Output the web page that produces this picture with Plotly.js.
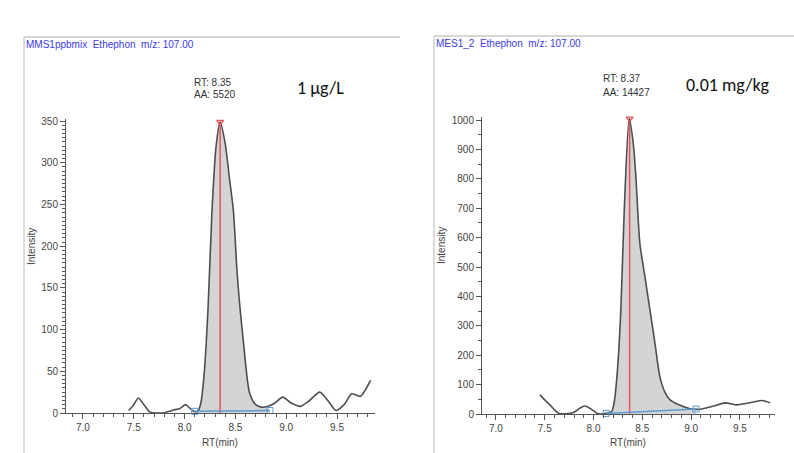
<!DOCTYPE html>
<html>
<head>
<meta charset="utf-8">
<script src="https://cdn.plot.ly/plotly-3.0.1.min.js"></script>
<style>html,body{margin:0;padding:0;background:#fff;}#chart{width:794px;height:453px;}</style>
</head>
<body>
<div id="chart"></div>
<script>
// ---- Data ----
const leftRT  = [7.45, 7.50, 7.545, 7.60, 7.66, 7.72, 7.79, 7.85, 7.90, 7.95, 8.01, 8.05, 8.09, 8.13, 8.16, 8.19, 8.23, 8.27, 8.31, 8.35, 8.40, 8.44, 8.48, 8.52, 8.58, 8.64, 8.70, 8.76, 8.82, 8.89, 8.965, 9.05, 9.14, 9.23, 9.33, 9.41, 9.49, 9.57, 9.645, 9.73, 9.83];
const leftInt = [3, 10, 18, 10, 1, 0, 0, 2, 4, 5, 10, 6, 2, 2, 12, 43, 123, 243, 320, 349, 323, 283, 243, 163, 84, 24, 10, 7, 8, 12, 19, 12, 8, 15, 25, 15, 3, 10, 23, 20, 39];
const leftPeakStart = 8.10, leftPeakEnd = 8.84;
const leftBase = [2, 3];
const leftRTapex = 8.35, leftApex = 349;

const rightRT  = [7.45, 7.50, 7.553, 7.60, 7.64, 7.72, 7.80, 7.86, 7.91, 7.97, 8.05, 8.13, 8.185, 8.21, 8.24, 8.28, 8.315, 8.366, 8.407, 8.434, 8.475, 8.527, 8.578, 8.63, 8.68, 8.73, 8.78, 8.87, 8.99, 9.09, 9.23, 9.35, 9.47, 9.56, 9.64, 9.73, 9.81];
const rightInt = [65, 48, 31, 14, 3, 1, 6, 20, 27, 18, 1, 2, 8, 36, 127, 354, 694, 1005, 921, 807, 580, 467, 354, 240, 127, 75, 50, 32, 18, 16, 27, 38, 31, 36, 41, 46, 38];
const rightPeakStart = 8.13, rightPeakEnd = 9.05;
const rightBase = [2, 17];
const rightRTapex = 8.37, rightApex = 1005;

const xTickVals = [7.0, 7.5, 8.0, 8.5, 9.0, 9.5];
const xTickText = ["7.0", "7.5", "8.0", "8.5", "9.0", "9.5"];

// ---- helpers ----
const W = 794, H = 453;
const px = x => x / W;
const py = y => 1 - y / H;
function segment(rt, v, a, b) {
  const xs = [], ys = [];
  for (let i = 0; i < rt.length; i++) if (rt[i] >= a - 1e-9 && rt[i] <= b + 1e-9) { xs.push(rt[i]); ys.push(v[i]); }
  return {xs, ys};
}
const lineCol = '#4d4d55', fillCol = '#d4d4d4', redCol = '#f05050', blueCol = '#5b9bd5';
function traces(rt, v, ps, pe, base, apx, apy, xa, ya) {
  const seg = segment(rt, v, ps, pe);
  return [
    {x: [ps].concat(seg.xs, [pe]), y: [base[0]].concat(seg.ys, [base[1]]), xaxis: xa, yaxis: ya, mode: 'lines',
     line: {width: 0, shape: 'spline', smoothing: 0.7}, fill: 'tozeroy', fillcolor: fillCol, hoverinfo: 'skip'},
    {x: [apx, apx], y: [0, apy], xaxis: xa, yaxis: ya, mode: 'lines', line: {color: redCol, width: 1.5}, hoverinfo: 'skip'},
    {x: rt, y: v, xaxis: xa, yaxis: ya, mode: 'lines', line: {color: lineCol, width: 1.6, shape: 'spline', smoothing: 0.7}},
    {x: [ps, pe], y: base, xaxis: xa, yaxis: ya, mode: 'lines+markers', line: {color: blueCol, width: 1.5},
     marker: {symbol: 'square-open', size: 6, color: blueCol, line: {width: 1, color: blueCol}}},
    {x: [apx], y: [apy], xaxis: xa, yaxis: ya, mode: 'markers', cliponaxis: false,
     marker: {symbol: 'triangle-down-open', size: 6, color: redCol, line: {width: 1.3, color: redCol}}}
  ];
}
const data = traces(leftRT, leftInt, leftPeakStart, leftPeakEnd, leftBase, leftRTapex, leftApex, 'x', 'y')
  .concat(traces(rightRT, rightInt, rightPeakStart, rightPeakEnd, rightBase, rightRTapex, rightApex, 'x2', 'y2'));
data.forEach(t => { t.showlegend = false; if (t.cliponaxis === undefined) t.cliponaxis = false; });

const tickFont = {family: 'Liberation Sans Narrow, Liberation Sans, Arial, sans-serif', size: 10, color: '#444'};
function xaxis(range, domain, anchor) {
  return {range, domain, anchor, showgrid: false, zeroline: false, showline: true, linecolor: '#555', linewidth: 1,
    ticks: 'outside', ticklen: 5, tickcolor: '#555', tickvals: xTickVals, ticktext: xTickText, tickfont: tickFont,
    minor: {dtick: 0.1, tick0: 7.0, ticks: 'outside', ticklen: 3, tickcolor: '#555', showgrid: false}, fixedrange: true};
}
function yaxis(range, domain, anchor, dtick, mdtick) {
  return {range, domain, anchor, showgrid: false, zeroline: false, showline: true, linecolor: '#555', linewidth: 1,
    ticks: 'outside', ticklen: 5, tickcolor: '#555', dtick, tick0: 0, tickfont: tickFont,
    minor: {dtick: mdtick, ticks: 'outside', ticklen: 3, tickcolor: '#555', showgrid: false}, fixedrange: true};
}
const blueFont = {family: 'Liberation Sans Narrow, Liberation Sans, Arial, sans-serif', size: 10, color: '#3a3ae8'};
const infoFont = {family: 'Liberation Sans Narrow, Liberation Sans, Arial, sans-serif', size: 10, color: '#333'};
const bigFont = {family: 'Carlito, Open Sans, Noto Sans, sans-serif', size: 18, color: '#111'};
const titleFont = {family: 'Liberation Sans Narrow, Liberation Sans, Arial, sans-serif', size: 10, color: '#444'};
function ann(text, x, y, font, opts) {
  return Object.assign({text, x: px(x), y: py(y), xref: 'paper', yref: 'paper', showarrow: false, font, xanchor: 'left', yanchor: 'middle'}, opts || {});
}
const annotations = [
  ann('MMS1ppbmix  Ethephon  m/z: 107.00', 24, 45, blueFont),
  ann('MES1_2  Ethephon  m/z: 107.00', 434, 43, blueFont),
  ann('RT: 8.35', 192, 82, infoFont),
  ann('AA: 5520', 192, 95, infoFont),
  ann('1 µg/L', 295, 88, bigFont),
  ann('RT: 8.37', 601, 78, infoFont),
  ann('AA: 14427', 601, 92, infoFont),
  ann('0.01 mg/kg', 684, 85, bigFont),
  ann('Intensity', 31, 247, titleFont, {textangle: -90, xanchor: 'center'}),
  ann('Intensity', 441, 245, titleFont, {textangle: -90, xanchor: 'center'}),
  ann('RT(min)', 220, 442, titleFont, {xanchor: 'center'}),
  ann('RT(min)', 628, 442, titleFont, {xanchor: 'center'})
];
const frameCol = '#c8c8c8';
const shapes = [
  {type: 'line', xref: 'paper', yref: 'paper', x0: px(24), x1: px(24), y0: py(37), y1: 0, line: {color: frameCol, width: 1.3}},
  {type: 'line', xref: 'paper', yref: 'paper', x0: px(24), x1: px(400), y0: py(37), y1: py(37), line: {color: frameCol, width: 1.3}},
  {type: 'line', xref: 'paper', yref: 'paper', x0: px(434), x1: px(434), y0: py(36), y1: 0, line: {color: frameCol, width: 1.3}},
  {type: 'line', xref: 'paper', yref: 'paper', x0: px(434), x1: 1, y0: py(36), y1: py(36), line: {color: frameCol, width: 1.3}}
];
const layout = {
  width: W, height: H, margin: {l: 0, r: 0, t: 0, b: 0}, paper_bgcolor: '#fff', plot_bgcolor: 'rgba(0,0,0,0)',
  showlegend: false,
  xaxis: xaxis([6.833, 9.874], [px(66), px(375)], 'y'),
  yaxis: yaxis([0, 352], [py(413), py(413 - 352 * 0.834)], 'x', 50, 5),
  xaxis2: xaxis([6.857, 9.86], [px(482), px(775)], 'y2'),
  yaxis2: yaxis([0, 1010], [py(414), py(414 - 1010 * 0.294)], 'x2', 100, 50),
  annotations, shapes
};
Plotly.newPlot('chart', data, layout, {displayModeBar: false, staticPlot: true});
</script>
</body>
</html>
